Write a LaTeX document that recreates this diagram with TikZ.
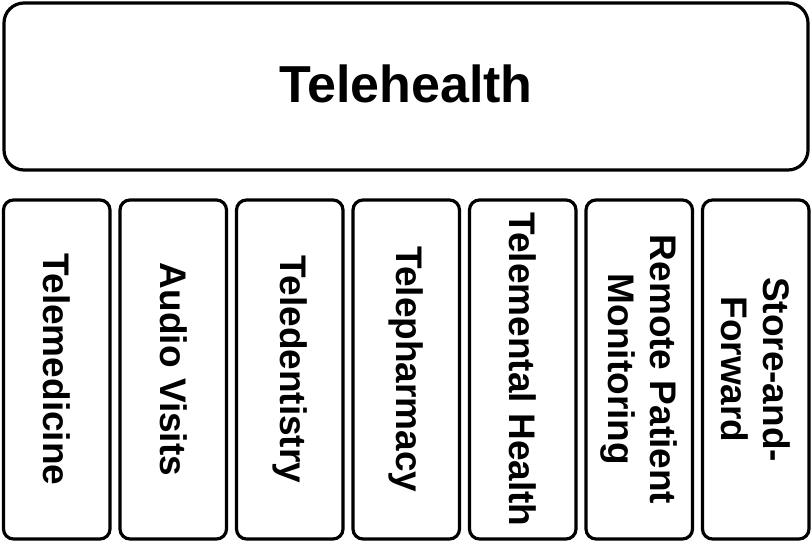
\documentclass[tikz,border=0pt]{standalone}
\usepackage{fontspec}
\setmainfont{Liberation Sans}
\usepackage{tikz}

\tikzset{
  panel/.style={draw, line width=3.2pt, rounded corners=10pt, align=center,
    font=\bfseries\fontsize{37}{42}\selectfont, inner sep=0pt},
  header/.style={panel, rounded corners=20pt, text depth=6pt,
    font=\bfseries\fontsize{52}{60}\selectfont}
}

\begin{document}
\begin{tikzpicture}[x=1pt, y=-1pt]
  \useasboundingbox (0,0) rectangle (811,542);
  \node (telehealth) [header, minimum width=804pt, minimum height=167pt] at (406,86.5) {Telehealth};
  \foreach \name/\label [count=\i from 0] in {
    telemed/Telemedicine, audio/Audio Visits, dent/Teledentistry,
    pharm/Telepharmacy, mental/Telemental Health,
    rpm/{Remote Patient\\Monitoring}, saf/{Store-and-\\Forward}}
  {
    \node (\name) [panel, rotate=-90, minimum width=339pt, minimum height=106.5pt]
      at (56.75+116.5*\i, 369.5) {\label};
  }
\end{tikzpicture}
\end{document}
